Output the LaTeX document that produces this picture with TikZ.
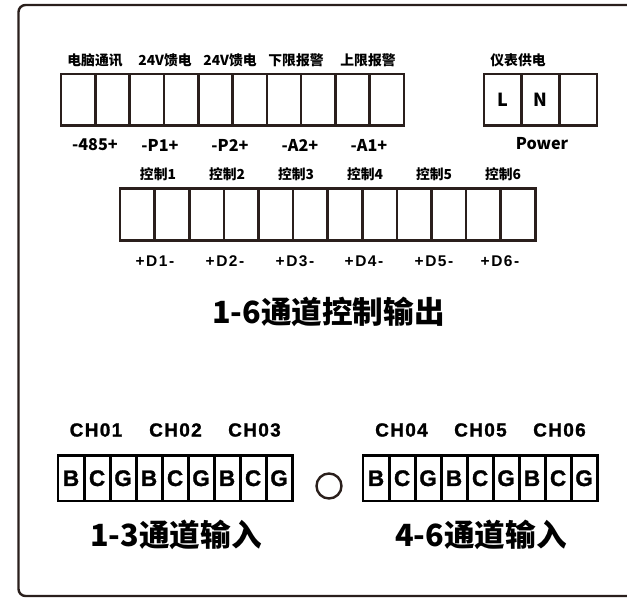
\documentclass[tikz,border=0pt]{standalone}
\usepackage{fontspec}
\setmainfont{Noto Sans CJK SC}
\newfontfamily\arialb[FakeBold=1.3]{Liberation Sans}
\newfontfamily\arials[LetterSpace=7,FakeBold=1.3]{Liberation Sans}
\newfontfamily\arialw[LetterSpace=10]{Liberation Sans}
\definecolor{ink}{HTML}{2A1F1C}
\tikzset{
  frameline/.style={draw=ink,line width=2.4,rounded corners=7},
  cellbox/.style={draw=ink,line width=2.6,minimum width=#1,inner sep=0,outer sep=0,anchor=north west,font=\bfseries\fontsize{18}{18}\selectfont,text=black},
  inbox/.style={draw=black,line width=2.6,minimum width=26.2,minimum height=45.5,inner sep=0,outer sep=0,anchor=north west,font=\arialb\bfseries\fontsize{22.5}{22}\selectfont,text=black},
  tiny/.style={inner sep=0,font=\bfseries\fontsize{13.8}{14}\selectfont,text=black},
  termlab/.style={inner sep=0,font=\bfseries\fontsize{16.2}{16}\selectfont,text=black},
  dlab/.style={inner sep=0,font=\arialw\bfseries\fontsize{15.5}{16}\selectfont,text=black},
  chlab/.style={inner sep=0,font=\arials\bfseries\fontsize{19}{19}\selectfont,text=black},
  bigtitle/.style={inner sep=0,font=\bfseries\fontsize{30.6}{31}\selectfont,text=black}
}
\begin{document}
\begin{tikzpicture}[x=1pt,y=-1pt]
\useasboundingbox (0,0) rectangle (627,599);
\clip (0,0) rectangle (627,599);
% panel outline runs off the right edge
\draw[frameline] (640,5) -- (18.5,5) -- (18.5,596) -- (640,596);
% top terminal row
\foreach \i in {1,...,10}
  \node[cellbox=34.3,minimum height=51.5] (top\i) at ({61+(\i-1)*34.3},74) {};
\foreach \i/\t in {1/L,2/N,3/{}} 
  \node[cellbox=37.7,minimum height=51.5] (pw\i) at ({484+(\i-1)*37.7},74) {\t};
% control terminal row
\foreach \i in {1,...,12}
  \node[cellbox=34.6,minimum height=52] (ctl\i) at ({120+(\i-1)*34.6},188.5) {};
% input rows
\foreach \i/\t in {1/B,2/C,3/G,4/B,5/C,6/G,7/B,8/C,9/G}{
  \node[inbox] (ia\i) at ({58+(\i-1)*26},455.5) {\t};
  \node[inbox] (ib\i) at ({363+(\i-1)*26},455.5) {\t};
}
\node[circle,draw=ink,line width=2.4,minimum size=25,inner sep=0] (hole) at (329,486) {};
% top labels
\node[tiny] (l1) at (95,60) {电脑通讯};
\node[tiny] (l2) at (165,60) {24V馈电};
\node[tiny] (l3) at (230,60) {24V馈电};
\node[tiny] (l4) at (296,60) {下限报警};
\node[tiny] (l5) at (368,60) {上限报警};
\node[tiny] (l6) at (518,60) {仪表供电};
\node[termlab] (b1) at (95,145) {-485+};
\node[termlab] (b2) at (160,145) {-P1+};
\node[termlab] (b3) at (230,145) {-P2+};
\node[termlab] (b4) at (300,145) {-A2+};
\node[termlab] (b5) at (369,145) {-A1+};
\node[termlab] (b6) at (542,144) {Power};
% control labels
\foreach \i/\x in {1/158,2/227,3/296,4/365,5/434,6/503}
  \node[tiny] (c\i) at (\x,174) {控制\i};
\foreach \i/\x in {1/155,2/225,3/295,4/364,5/434}
  \node[dlab] (d\i) at (\x,261) {+D\i-};
\node[dlab] (d6) at (500,261) {+D6-};
\node[bigtitle] (t1) at (328.5,312) {1-6通道控制输出};
% channel labels
\foreach \n/\x in {CH01/96,CH02/175.5,CH03/254.5,CH04/401.5,CH05/480.5,CH06/559.5}
  \node[chlab] (\n) at (\x,430) {\n};
\node[bigtitle] (t2) at (176,534.5) {1-3通道输入};
\node[bigtitle] (t3) at (481,534.5) {4-6通道输入};
\end{tikzpicture}
\end{document}
